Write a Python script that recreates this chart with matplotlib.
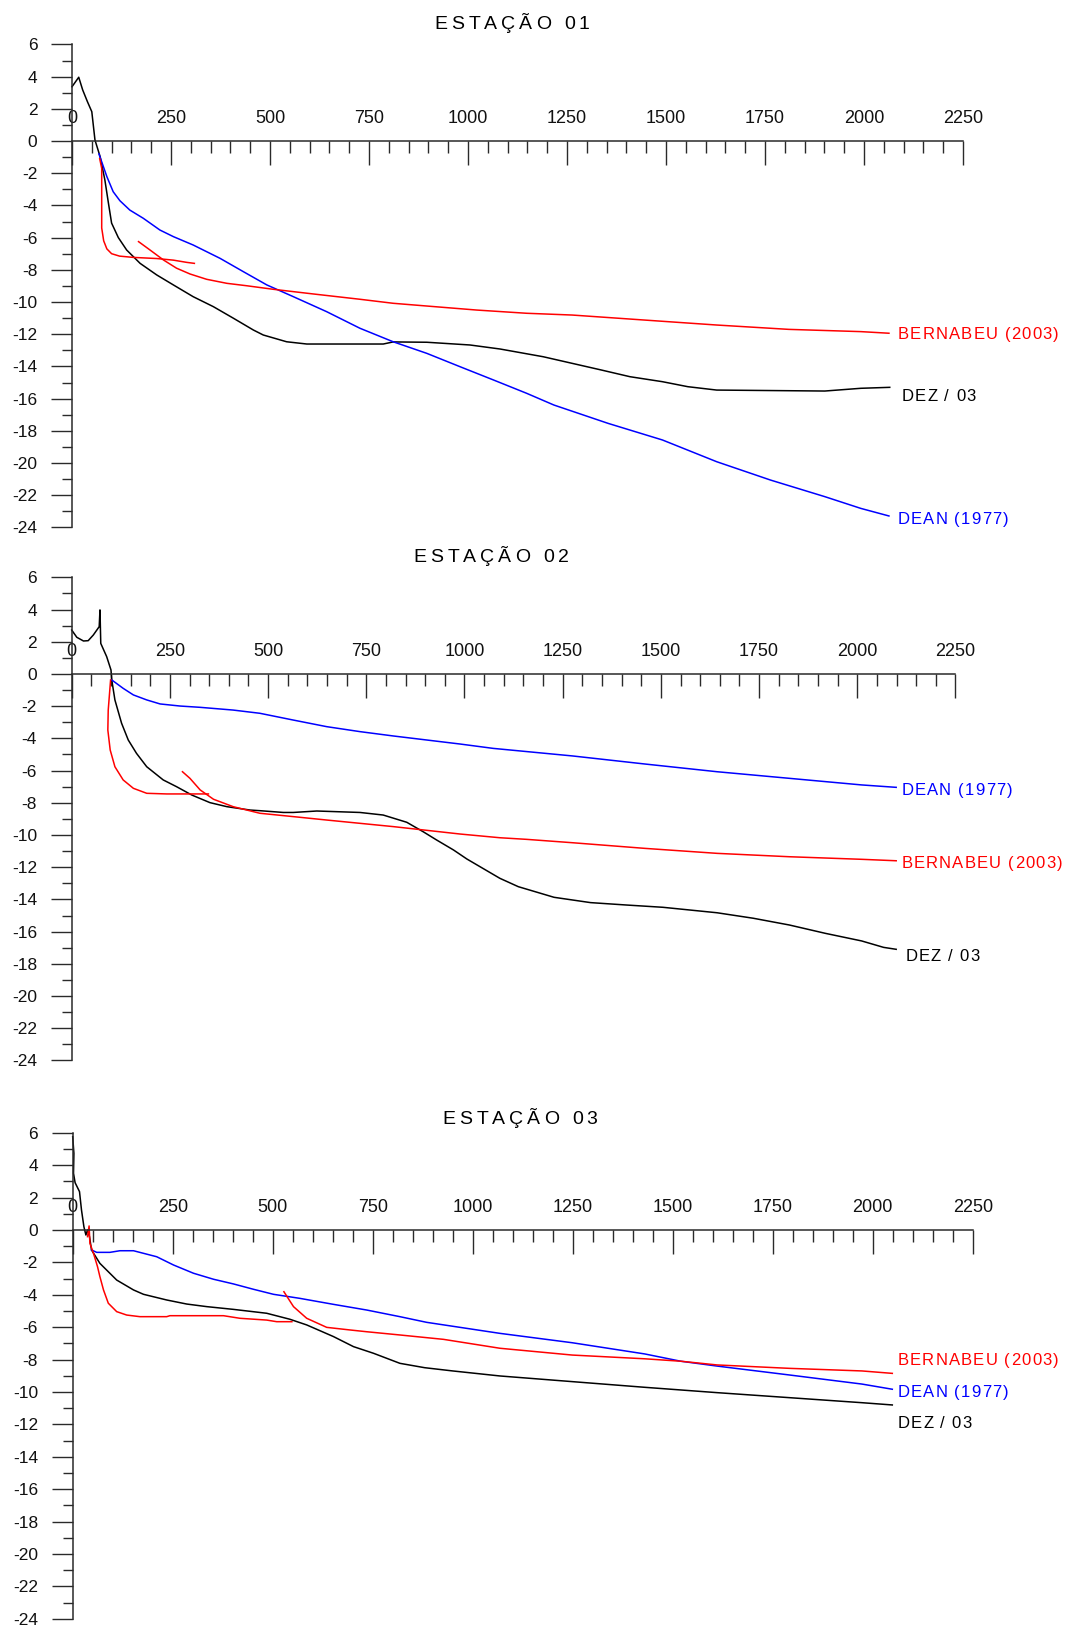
import numpy as np
import matplotlib
matplotlib.use("Agg")
import matplotlib.pyplot as plt
from matplotlib import font_manager as fm
from matplotlib.ft2font import FT2Font

plt.rcParams['font.family'] = ['Liberation Sans', 'DejaVu Sans']

# ---------------- DATA ----------------
titles = ["ESTAÇÃO 01", "ESTAÇÃO 02", "ESTAÇÃO 03"]
x_ticks = [0, 250, 500, 750, 1000, 1250, 1500, 1750, 2000, 2250]
y_ticks = [6, 4, 2, 0, -2, -4, -6, -8, -10, -12, -14, -16, -18, -20, -22, -24]
label_dez = "DEZ / 03"
label_dean = "DEAN (1977)"
label_bern = "BERNABEU (2003)"

# Estação 01
dez1_x = [0, 17, 27, 39, 50, 58, 71, 83, 92, 100, 117, 138, 172, 214, 256, 306, 357, 407, 458, 483,
          542, 593, 786, 811, 896, 1005, 1081, 1190, 1263, 1336, 1409, 1491, 1555, 1628, 1901, 1992, 2065]
dez1_y = [3.37, 3.96, 3.17, 2.44, 1.82, 0.06, -0.97, -2.42, -3.86, -5.1, -6.0, -6.77, -7.6, -8.32, -8.94,
          -9.67, -10.29, -11.0, -11.74, -12.05, -12.47, -12.61, -12.61, -12.48, -12.5, -12.67, -12.92,
          -13.4, -13.81, -14.22, -14.64, -14.95, -15.26, -15.47, -15.53, -15.36, -15.3]
dean1_x = [68, 88, 104, 121, 146, 180, 222, 256, 306, 374, 433, 492, 559, 643, 727, 811, 896, 980, 1064,
           1148, 1217, 1354, 1491, 1628, 1764, 1901, 1992, 2063]
dean1_y = [-0.8, -2.21, -3.15, -3.71, -4.29, -4.8, -5.53, -5.94, -6.46, -7.29, -8.12, -8.94, -9.67, -10.6,
           -11.63, -12.47, -13.19, -14.02, -14.84, -15.67, -16.4, -17.54, -18.57, -19.92, -21.06, -22.09,
           -22.82, -23.29]
bern1a_x = [70, 75, 75, 80, 88, 100, 120, 155, 214, 256, 290, 309]
bern1a_y = [-1.1, -1.7, -5.4, -6.2, -6.7, -7.0, -7.15, -7.23, -7.3, -7.4, -7.54, -7.6]
bern1b_x = [168, 197, 231, 264, 298, 340, 391, 441, 508, 609, 727, 811, 896, 1022, 1148, 1263, 1445,
            1628, 1810, 1992, 2063]
bern1b_y = [-6.25, -6.77, -7.39, -7.9, -8.26, -8.59, -8.84, -8.99, -9.21, -9.5, -9.83, -10.08, -10.25,
            -10.5, -10.7, -10.81, -11.12, -11.43, -11.7, -11.84, -11.94]

# Estação 02
dez2_x = [0, 13, 30, 42, 55, 70, 72, 74, 89, 100, 102, 110, 127, 144, 165, 191, 233, 267, 306, 352, 395,
          454, 479, 539, 564, 624, 734, 793, 853, 895, 929, 972, 1006, 1090, 1137, 1228, 1321, 1413, 1505,
          1643, 1735, 1827, 1919, 2011, 2067, 2099]
dez2_y = [2.73, 2.28, 2.05, 2.07, 2.42, 2.94, 3.98, 1.9, 1.08, 0.25, -0.37, -1.61, -3.06, -4.1, -4.93,
          -5.76, -6.58, -7.0, -7.52, -7.99, -8.24, -8.45, -8.49, -8.6, -8.6, -8.51, -8.6, -8.76, -9.21,
          -9.8, -10.31, -10.93, -11.49, -12.69, -13.21, -13.87, -14.2, -14.35, -14.49, -14.83, -15.17,
          -15.59, -16.11, -16.58, -16.98, -17.1]
dean2_x = [102, 131, 157, 191, 225, 276, 327, 411, 479, 564, 649, 734, 819, 904, 989, 1073, 1275, 1459,
           1643, 1827, 2011, 2099]
dean2_y = [-0.37, -0.89, -1.3, -1.61, -1.86, -1.99, -2.07, -2.24, -2.44, -2.86, -3.27, -3.58, -3.85, -4.1,
           -4.35, -4.62, -5.09, -5.59, -6.07, -6.48, -6.89, -7.04]
bern2a_x = [99, 93, 92, 98, 110, 131, 157, 191, 242, 348]
bern2a_y = [-0.37, -2.24, -3.48, -4.72, -5.76, -6.58, -7.1, -7.41, -7.45, -7.45]
bern2b_x = [282, 301, 327, 361, 411, 479, 581, 649, 819, 989, 1090, 1158, 1275, 1459, 1643, 1827, 2011, 2099]
bern2b_y = [-6.07, -6.48, -7.2, -7.78, -8.24, -8.65, -8.9, -9.07, -9.48, -9.94, -10.17, -10.27, -10.48,
            -10.83, -11.14, -11.35, -11.51, -11.6]

# Estação 03
dez3_x = [0, 3, 2, 6, 17, 22, 28, 33, 37, 42, 47, 68, 110, 152, 177, 235, 285, 335, 402, 485, 543, 585,
          652, 702, 752, 818, 880, 950, 1068, 1249, 1430, 1611, 1792, 1973, 2049]
dez3_y = [5.76, 4.73, 3.5, 2.92, 2.37, 1.23, 0.2, -0.31, 0.0, -0.41, -1.23, -2.06, -3.09, -3.7, -3.97,
          -4.32, -4.57, -4.73, -4.9, -5.14, -5.51, -5.86, -6.58, -7.2, -7.61, -8.23, -8.5, -8.7, -9.01,
          -9.36, -9.71, -10.04, -10.35, -10.66, -10.8]
dean3_x = [47, 60, 93, 118, 152, 210, 252, 302, 352, 402, 452, 502, 568, 652, 735, 818, 885, 1068, 1249,
           1430, 1520, 1611, 1792, 1973, 2049]
dean3_y = [-1.23, -1.38, -1.38, -1.28, -1.28, -1.65, -2.16, -2.67, -3.04, -3.33, -3.66, -3.97, -4.22,
           -4.59, -4.94, -5.35, -5.7, -6.38, -6.96, -7.65, -8.1, -8.4, -8.95, -9.51, -9.83]
bern3a_x = [37, 41, 43, 52, 62, 68, 77, 89, 110, 135, 168, 235, 243, 377, 418, 485, 510, 548]
bern3a_y = [-0.41, 0.25, -0.82, -1.44, -2.26, -2.88, -3.7, -4.52, -5.04, -5.25, -5.35, -5.35, -5.29,
            -5.29, -5.45, -5.56, -5.66, -5.66]
bern3b_x = [528, 552, 585, 635, 693, 735, 818, 927, 1068, 1249, 1430, 1520, 1611, 1792, 1973, 2049]
bern3b_y = [-3.81, -4.73, -5.45, -6.01, -6.17, -6.28, -6.48, -6.75, -7.3, -7.72, -7.95, -8.1, -8.33,
            -8.54, -8.7, -8.85]

# label anchor positions (data coords)
labels1 = [(label_bern, 2085, -11.9, 'red'), (label_dez, 2095, -15.78, 'black'), (label_dean, 2085, -23.43, 'blue')]
labels2 = [(label_dean, 2112, -7.16, 'blue'), (label_bern, 2112, -11.66, 'red'), (label_dez, 2122, -17.45, 'black')]
labels3 = [(label_bern, 2062, -7.98, 'red'), (label_dean, 2062, -9.94, 'blue'), (label_dez, 2062, -11.87, 'black')]

# ---------------- LAYOUT ----------------
W, H = 1065, 1636
fig = plt.figure(figsize=(W / 100, H / 100), dpi=100)

# pixel boxes: (x at 0, x at 2250, y-pixel at +6, y-pixel at -24)
boxes = [(72, 963, 44.4, 527.4), (71.7, 955.5, 577.4, 1060.4), (72.7, 972.7, 1132.8, 1618.8)]
title_pos = [(512, 22), (491, 555), (520, 1117)]

FAM = 'Liberation Sans'
_font = FT2Font(fm.findfont(fm.FontProperties(family=FAM)))


def advances(s, size):
    _font.set_size(size, 72)
    return [_font.load_char(ord(c)).linearHoriAdvance / 65536 for c in s]


def spaced(ax, s, xy, xycoords, size, spacing, color, center=False):
    adv = advances(s, size)
    total = sum(adv) + spacing * (len(s) - 1)
    x = -total / 2 if center else 0.0
    for c, a in zip(s, adv):
        if c != ' ':
            ax.annotate(c, xy=xy, xycoords=xycoords, xytext=(x, -0.358 * size),
                        textcoords='offset points', fontsize=size, color=color,
                        ha='left', va='baseline', family=FAM, annotation_clip=False)
        x += a + spacing


axcol = '#2a2a2a'
series_sets = [
    (dez1_x, dez1_y, dean1_x, dean1_y, [(bern1a_x, bern1a_y), (bern1b_x, bern1b_y)], labels1),
    (dez2_x, dez2_y, dean2_x, dean2_y, [(bern2a_x, bern2a_y), (bern2b_x, bern2b_y)], labels2),
    (dez3_x, dez3_y, dean3_x, dean3_y, [(bern3a_x, bern3a_y), (bern3b_x, bern3b_y)], labels3),
]

for i, (box, sset) in enumerate(zip(boxes, series_sets)):
    x0, x1, yt, yb = box
    ax = fig.add_axes([x0 / W, 1 - yb / H, (x1 - x0) / W, (yb - yt) / H])
    ax.set_xlim(0, 2250)
    ax.set_ylim(-24, 6)
    ax.patch.set_alpha(0)
    for side in ('top', 'right'):
        ax.spines[side].set_visible(False)
    ax.spines['left'].set_position(('data', 0))
    ax.spines['bottom'].set_position(('data', 0))
    for side in ('left', 'bottom'):
        ax.spines[side].set_color(axcol)
        ax.spines[side].set_linewidth(1.1)

    ax.set_xticks(x_ticks)
    ax.set_xticklabels([str(v) for v in x_ticks])
    ax.set_xticks(np.arange(0, 2251, 50), minor=True)
    ax.set_yticks(y_ticks)
    ax.set_yticklabels([str(v) for v in y_ticks])
    ax.set_yticks(np.arange(-23, 6, 2), minor=True)
    ax.tick_params(axis='x', which='major', direction='out', length=17.5, width=1.0,
                   color=axcol, pad=-39.5, labelsize=13)
    ax.tick_params(axis='x', which='minor', direction='out', length=8.8, width=1.0, color=axcol)
    ax.tick_params(axis='y', which='major', direction='out', length=15, width=1.0,
                   color=axcol, pad=10, labelsize=12.5)
    ax.tick_params(axis='y', which='minor', direction='out', length=7.5, width=1.0, color=axcol)
    for lab in ax.get_xticklabels() + ax.get_yticklabels():
        lab.set_color('#111111')

    dx, dy, ex, ey, bparts, labs = sset
    ax.plot(dx, dy, color='black', lw=1.1, clip_on=False)
    ax.plot(ex, ey, color='#0000ff', lw=1.1, clip_on=False)
    for bx, by in bparts:
        ax.plot(bx, by, color='#ff0000', lw=1.1, clip_on=False)

    for text, lx, ly, col in labs:
        c = {'red': '#ff0000', 'blue': '#0000ff', 'black': '#000000'}[col]
        spaced(ax, text, (lx, ly), 'data', 12, 0.85, c)

    tx, ty = title_pos[i]
    spaced(ax, titles[i], (tx, H - ty), 'figure pixels', 14, 2.8, '#000000', center=True)

fig.savefig('out.png', dpi=100)
